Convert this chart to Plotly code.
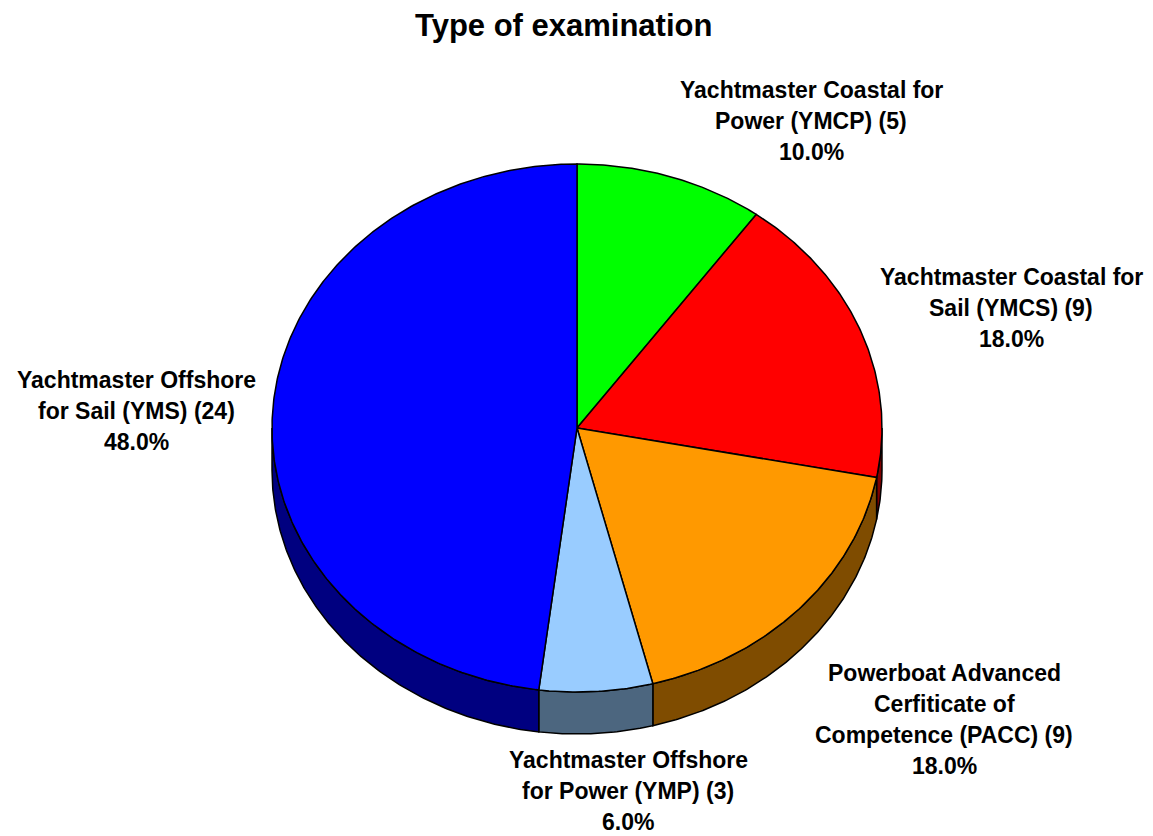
import numpy as np
import plotly.graph_objects as go

# ---- data ----
categories = [
    "Yachtmaster Coastal for\nPower (YMCP)",
    "Yachtmaster Coastal for\nSail (YMCS)",
    "Powerboat Advanced\nCerfiticate of\nCompetence (PACC)",
    "Yachtmaster Offshore\nfor Power (YMP)",
    "Yachtmaster Offshore\nfor Sail (YMS)",
]
values = [5, 9, 9, 3, 24]
top_colors = ["#00ff00", "#ff0000", "#ff9900", "#99ccff", "#0000ff"]
side_colors = ["#008000", "#800000", "#7f4c00", "#4c667f", "#000080"]

# ---- layout geometry (screen units, y downward) ----
W, H = 1153, 836
cx, cy = 577, 428
rx, ry = 305, 264
depth = 42
start_deg = 90.0
label_pos = [(811, 98), (1011, 285.5), (944, 681), (628, 768.5), (136, 388)]
label_fs = 23
line_gap = 31.0

total = sum(values)
fracs = [v / total for v in values]


def ellipse_pts(a1, a2, dy=0.0, n=None):
    if n is None:
        n = max(2, int(abs(a1 - a2) * 2) + 2)
    t = np.radians(np.linspace(a1, a2, n))
    return cx + rx * np.cos(t), cy - ry * np.sin(t) + dy


fig = go.Figure()

# slice angle ranges (clockwise => decreasing angle)
ranges = []
a = start_deg
for f in fracs:
    b = a - 360 * f
    ranges.append((a, b))
    a = b

# side walls (visible front half: angles in [-180, 0])
for (a1, a2), sc in zip(ranges, side_colors):
    hi = min(a1, 0.0)
    lo = max(a2, -180.0)
    if hi <= lo:
        continue
    tx, ty = ellipse_pts(hi, lo)
    bx, by = ellipse_pts(lo, hi, dy=depth)
    xs = np.concatenate([tx, bx, tx[:1]])
    ys = np.concatenate([ty, by, ty[:1]])
    fig.add_trace(go.Scatter(x=xs, y=ys, mode="lines", fill="toself",
                             fillcolor=sc, line=dict(color="black", width=1.5),
                             hoverinfo="skip", showlegend=False))

# top faces
for (a1, a2), tc, name, v in zip(ranges, top_colors, categories, values):
    ex, ey = ellipse_pts(a1, a2)
    xs = np.concatenate([[cx], ex, [cx]])
    ys = np.concatenate([[cy], ey, [cy]])
    fig.add_trace(go.Scatter(x=xs, y=ys, mode="lines", fill="toself",
                             fillcolor=tc, line=dict(color="black", width=1.5),
                             name=name.replace("\n", " "), text=f"{v}",
                             hoverinfo="name+text", showlegend=False))

# labels
annotations = []
for name, v, f, (lx, ly) in zip(categories, values, fracs, label_pos):
    lines = name.split("\n")
    lines[-1] = lines[-1] + f" ({v})"
    lines.append(f"{f*100:.1f}%")
    for i, ln in enumerate(lines):
        annotations.append(dict(
            x=lx, y=ly + i * line_gap - 0.36 * label_fs, xref="x", yref="y",
            text=f"<b>{ln}</b>", showarrow=False, xanchor="center", yanchor="middle",
            borderpad=0,
            font=dict(family="Liberation Sans, Arial, sans-serif", size=label_fs, color="black"),
        ))

title_fs = 31
annotations.append(dict(
    x=563, y=37 - 0.36 * title_fs, xref="x", yref="y", text="<b>Type of examination</b>",
    showarrow=False, xanchor="center", yanchor="middle",
    font=dict(family="Liberation Sans, Arial, sans-serif", size=title_fs, color="black"),
))

fig.update_layout(
    width=W, height=H,
    margin=dict(l=0, r=0, t=0, b=0),
    paper_bgcolor="white", plot_bgcolor="white",
    xaxis=dict(range=[0, W], visible=False, fixedrange=True),
    yaxis=dict(range=[H, 0], visible=False, fixedrange=True),
    annotations=annotations,
    showlegend=False,
)

fig.write_html(
    "out.html",
    config={"displayModeBar": False},
    post_script="document.body.style.margin='0';document.body.style.padding='0';document.body.style.overflow='hidden';",
)
